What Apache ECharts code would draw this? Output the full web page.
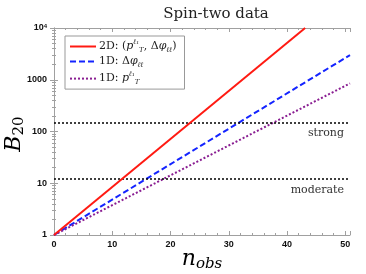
<!DOCTYPE html>
<html><head><meta charset="utf-8">
<script src="https://cdn.jsdelivr.net/npm/echarts@6/dist/echarts.min.js"></script>
<style>html,body{margin:0;padding:0;background:#fff}#c{width:366px;height:274px}</style>
</head><body><div id="c"></div>
<script>
// ---- data ----
const seriesNames = ['2D', '1D phi', '1D pT'];
const redN = [0, 43.1];       const redB = [1, 10000];
const blueN = [0, 50.8];      const blueB = [1, 3000];
const purpleN = [0, 50.8];    const purpleB = [1, 850];
const thresholdValues = [150, 12];
const thresholdLabels = ['strong', 'moderate'];
const xTicks = [0, 10, 20, 30, 40, 50];
const yTicks = [1, 10, 100, 1000, 10000];

const SERIF = '"DejaVu Serif", serif';
const SANS = '"Liberation Sans", Arial, sans-serif';
const AX = '#a0a0a0';
const zip = (a, b) => a.map((v, i) => [v, b[i]]);

const chart = echarts.init(document.getElementById('c'));
const legendRich = {
  n: { fontFamily: SERIF, fontSize: 11, color: '#222', lineHeight: 15 },
  i: { fontFamily: SERIF, fontSize: 11, fontStyle: 'italic', color: '#222', lineHeight: 15 },
  sup: { fontFamily: SERIF, fontSize: 7, fontStyle: 'italic', color: '#222', verticalAlign: 'top', lineHeight: 15 },
  sub: { fontFamily: SERIF, fontSize: 7, fontStyle: 'italic', color: '#222', verticalAlign: 'bottom', lineHeight: 15 }
};
const legendText = {
  '2D': '{n|2D: (}{i|p}{sup|ℓ₁}{sub|T}{n|, Δ}{i|φ}{sub|ℓℓ}{n|)}',
  '1D phi': '{n|1D: Δ}{i|φ}{sub|ℓℓ}',
  '1D pT': '{n|1D: }{i|p}{sup|ℓ₁}{sub|T}'
};
const nameRich = {
  m: { fontFamily: SERIF, fontStyle: 'italic', fontSize: 22, color: '#222', lineHeight: 26 },
  s: { fontFamily: SERIF, fontStyle: 'italic', fontSize: 15, color: '#222', lineHeight: 26, verticalAlign: 'bottom' },
  r: { fontFamily: SERIF, fontSize: 15, color: '#222', lineHeight: 26, verticalAlign: 'bottom' }
};

const common = { type: 'line', symbol: 'none', silent: true, animation: false, xAxisIndex: 0, yAxisIndex: 0 };

chart.setOption({
  animation: false,
  title: {
    text: 'Spin-two data', left: 211, top: 2, textAlign: 'center',
    textStyle: { fontFamily: SERIF, fontWeight: 'normal', fontSize: 15, color: '#222' }
  },
  graphic: [
    { type: 'text', x: 202, y: 259, silent: true,
      style: { text: '{m|n}{s|obs}', rich: nameRich, align: 'center', verticalAlign: 'middle' } },
    { type: 'text', x: 14, y: 134, rotation: Math.PI / 2, silent: true,
      style: { text: '{m|B}{r|20}', rich: nameRich, align: 'center', verticalAlign: 'middle' } }
  ],
  legend: {
    orient: 'vertical', left: 65, top: 36, width: 121,
    padding: [3, 8, 3, 4], itemGap: 2, itemWidth: 26, itemHeight: 14,
    borderColor: '#999', borderWidth: 1, backgroundColor: '#fff',
    data: seriesNames,
    itemStyle: { opacity: 0 },
    formatter: n => legendText[n],
    textStyle: { rich: legendRich, padding: [0, 0, 0, -2] }
  },
  grid: { left: 54, right: 16, top: 28, bottom: 39, containLabel: false, outerBoundsMode: 'none' },
  xAxis: [{
    type: 'value', min: 0, max: 50.8, interval: 10,
    axisLine: { show: true, lineStyle: { color: AX } },
    axisTick: { inside: true, length: 4, lineStyle: { color: AX } },
    minorTick: { show: true, splitNumber: 5, length: 2, lineStyle: { color: AX } },
    splitLine: { show: false },
    axisLabel: { margin: 5, fontFamily: SANS, fontWeight: 'bold', fontSize: 9, color: '#111',
      formatter: v => xTicks.includes(v) ? String(v) : '' }
  }, {
    type: 'value', min: 0, max: 50.8, interval: 10, position: 'top',
    axisLine: { show: true, lineStyle: { color: AX } },
    axisTick: { inside: true, length: 4, lineStyle: { color: AX } },
    minorTick: { show: true, splitNumber: 5, length: 2, lineStyle: { color: AX } },
    splitLine: { show: false }, axisLabel: { show: false }
  }],
  yAxis: [{
    type: 'log', min: 1, max: 10000, logBase: 10,
    axisLine: { show: true, lineStyle: { color: AX } },
    axisTick: { inside: true, length: 4, lineStyle: { color: AX } },
    minorTick: { show: true, splitNumber: 9, length: 2, lineStyle: { color: AX } },
    splitLine: { show: false },
    axisLabel: { margin: 7, fontFamily: SANS, fontWeight: 'bold', fontSize: 9, color: '#111',
      formatter: v => v === 10000 ? '{b|10}{s|4}' : (yTicks.includes(v) ? String(v) : ''),
      rich: {
        b: { fontFamily: SANS, fontWeight: 'bold', fontSize: 9, color: '#111' },
        s: { fontFamily: SANS, fontWeight: 'bold', fontSize: 6, color: '#111', verticalAlign: 'top' }
      } }
  }, {
    type: 'log', min: 1, max: 10000, logBase: 10, position: 'right',
    axisLine: { show: true, lineStyle: { color: AX } },
    axisTick: { inside: true, length: 4, lineStyle: { color: AX } },
    minorTick: { show: true, splitNumber: 9, length: 2, lineStyle: { color: AX } },
    splitLine: { show: false }, axisLabel: { show: false }
  }],
  series: [
    Object.assign({}, common, {
      name: seriesNames[0], data: zip(redN, redB), color: '#ff1a12', z: 5,
      lineStyle: { width: 2, color: '#ff1a12', type: 'solid' },
      markLine: {
        silent: true, symbol: 'none', animation: false,
        lineStyle: { color: '#000', width: 1.5, type: [2, 2] },
        label: { position: 'insideEndBottom', distance: [6, 5], fontFamily: SERIF, fontSize: 11, color: '#333' },
        data: thresholdValues.map((v, i) => ({ yAxis: v, label: { formatter: thresholdLabels[i] } }))
      }
    }),
    Object.assign({}, common, {
      name: seriesNames[1], data: zip(blueN, blueB), color: '#1424ff',
      lineStyle: { width: 2, color: '#1424ff', type: [6, 3] }
    }),
    Object.assign({}, common, {
      name: seriesNames[2], data: zip(purpleN, purpleB), color: '#8a1e92',
      lineStyle: { width: 2, color: '#8a1e92', type: [2, 2] }
    })
  ]
});
</script></body></html>
